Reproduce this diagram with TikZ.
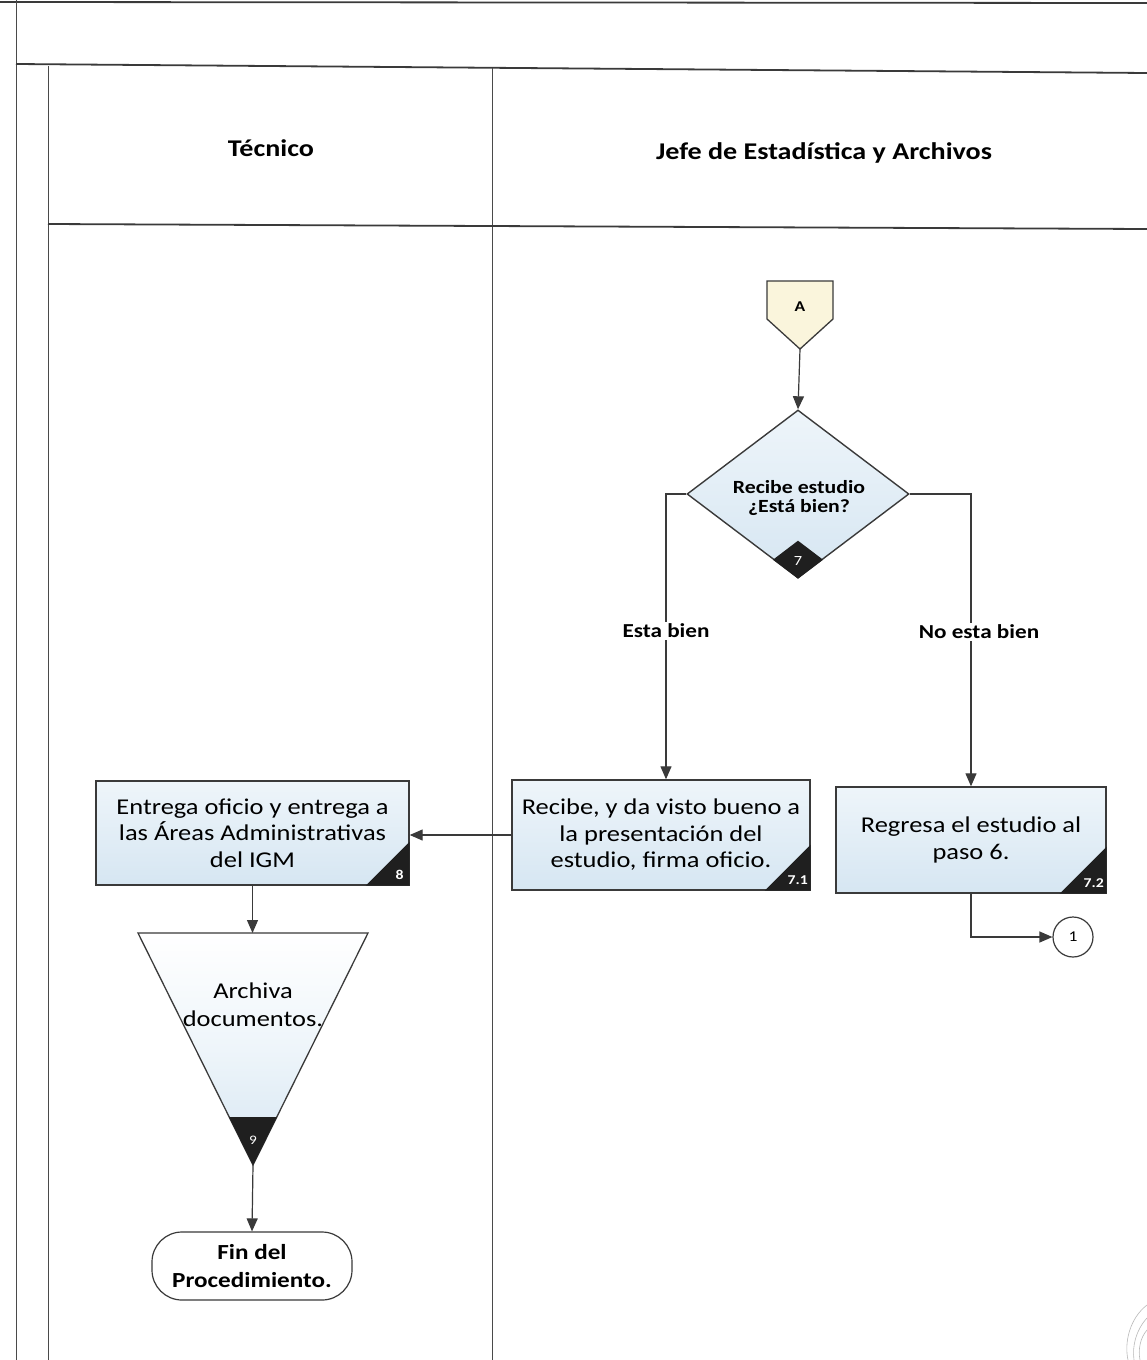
\documentclass[tikz,border=0pt]{standalone}
\usepackage{fontspec}
\setmainfont{Carlito}[FakeStretch=1.17]
\usetikzlibrary{arrows.meta,shapes.geometric,shadings}
\definecolor{ink}{HTML}{3A3A3A}
\definecolor{lane}{HTML}{4A4A4A}
\definecolor{boxtop}{HTML}{EEF5FA}
\definecolor{boxbot}{HTML}{D6E6F2}
\definecolor{offpage}{HTML}{FAF5DC}
\tikzset{
  laneline/.style={draw=lane, line width=0.9pt},
  heavyline/.style={draw=ink, line width=1.8pt},
  hdr/.style={font=\fontsize{24}{26}\selectfont\bfseries, text=black},
  proc/.style={draw=ink, line width=1.4pt, top color=boxtop, bottom color=boxbot,
    align=center, inner sep=0pt, font=\fontsize{22.6}{26.5}\selectfont},
  decision/.style={diamond, draw=ink, line width=1.4pt, top color=boxtop, bottom color=boxbot,
    inner sep=0pt, minimum width=222pt, minimum height=168pt},
  term/.style={draw=ink, line width=1.2pt, fill=white, rounded corners=30pt,
    align=center, minimum width=200pt, minimum height=68pt,
    font=\fontsize{21.5}{28}\selectfont\bfseries},
  corner/.style={fill=black!88},
  num/.style={text=white, font=\fontsize{13.5}{13.5}\selectfont\bfseries, inner sep=1pt},
  arr/.style={draw=ink, line width=1.2pt, -{Triangle[length=13pt,width=11pt]}},
  lbl/.style={fill=white, inner sep=2pt, font=\fontsize{19.8}{20}\selectfont\bfseries},
}
\begin{document}
\begin{tikzpicture}[x=1pt,y=-1pt]
\useasboundingbox (0,0) rectangle (1147,1360);
\fill[white] (0,0) rectangle (1147,1360);

% page frame and swim lanes
\draw[heavyline] (0,2) -- (1147,3);
\draw[laneline] (16,0) -- (16,1360);
\draw[heavyline] (16,64) -- (1147,73);
\draw[laneline] (48,66) -- (48,1360);
\draw[laneline] (492,68) -- (492,1360);
\draw[heavyline] (48,224) -- (1147,229);

% lane headers
\node[hdr] (hTec) at (271,148) {Técnico};
\node[hdr] (hJefe) at (824,153) {Jefe de Estadística y Archivos};

% off-page connector A
\draw[draw=ink, line width=1.3pt, fill=offpage]
  (767,281) -- (833,281) -- (833,319) -- (800,349) -- (767,319) -- cycle;
\node[font=\fontsize{15}{15}\selectfont\bfseries] (A) at (800,307) {A};
\coordinate (Atip) at (800,349);

% decision 7
\node[decision] (dec) at (798,494) {};
\node[align=center, font=\fontsize{18.6}{18.5}\selectfont\bfseries] (decText) at (799,498)
  {Recibe estudio\\¿Está bien?};
\fill[corner] (dec.south) -- ++(-25,-19) -- ++(25,-19) -- ++(25,19) -- cycle;
\node[num, font=\fontsize{14}{14}\selectfont] (n7) at (798,561) {7};

% process boxes
\node[proc, minimum width=313pt, minimum height=104pt] (b8) at (252.5,833)
  {Entrega oficio y entrega a\\las Áreas Administrativas\\del IGM};
\fill[corner] (b8.south east) -- ++(-44,0) -- ++(44,-44) -- cycle;
\node[num] (n8) at ([shift={(-10,-11)}]b8.south east) {8};

\node[proc, minimum width=298pt, minimum height=110pt] (b71) at (661,835)
  {Recibe, y da visto bueno a\\la presentación del\\estudio, firma oficio.};
\fill[corner] (b71.south east) -- ++(-46,0) -- ++(46,-46) -- cycle;
\node[num] (n71) at ([shift={(-13,-11)}]b71.south east) {7.1};

\node[proc, minimum width=270pt, minimum height=106pt] (b72) at (971,840)
  {Regresa el estudio al\\paso 6.};
\fill[corner] (b72.south east) -- ++(-47,0) -- ++(47,-47) -- cycle;
\node[num] (n72) at ([shift={(-13,-11)}]b72.south east) {7.2};

% archive (inverted triangle) 9
\coordinate (triTop) at (253,933);
\coordinate (triBot) at (253,1165);
\shade[top color=white, bottom color=boxbot, middle color=boxtop, draw=ink, line width=1.3pt]
  (138,933) -- (368,933) -- (triBot) -- cycle;
\fill[corner] (229,1117) -- (277,1117) -- (triBot) -- cycle;
\node[num, font=\fontsize{13}{13}\selectfont] (n9) at (253,1140) {9};
\node[align=center, font=\fontsize{22.6}{28}\selectfont] (triText) at (253,1005)
  {Archiva\\documentos.};

% end terminator
\node[term] (fin) at (252,1266) {Fin del\\Procedimiento.};

% connector 1
\node[circle, draw=ink, line width=1.2pt, fill=white, minimum size=40pt, inner sep=0pt,
  font=\fontsize{15}{15}\selectfont] (c1) at (1073,937) {1};

% flow
\draw[arr] (Atip) -- (dec.north);
\draw[arr] (dec.west) -| ([xshift=5pt]b71.north);
\draw[arr] (dec.east) -| (b72.north);
\node[lbl] (lOk) at (666,631) {Esta bien};
\node[lbl] (lNo) at (979,632) {No esta bien};
\draw[arr] (b71.west) -- (b71.west -| b8.east);
\draw[arr] (b72.south) |- (c1.west);
\draw[arr] (b8.south) -- (b8.south |- triTop);
\draw[arr] (triBot) -- (fin.north);

% signature strokes at the lower right corner
\draw[gray!55, line width=0.6pt] (1147,1305) .. controls (1130,1318) and (1124,1342) .. (1128,1360);
\draw[gray!55, line width=0.6pt] (1147,1318) .. controls (1136,1330) and (1132,1346) .. (1134,1360);
\draw[gray!55, line width=0.6pt] (1147,1330) .. controls (1140,1338) and (1138,1350) .. (1140,1360);
\end{tikzpicture}
\end{document}
